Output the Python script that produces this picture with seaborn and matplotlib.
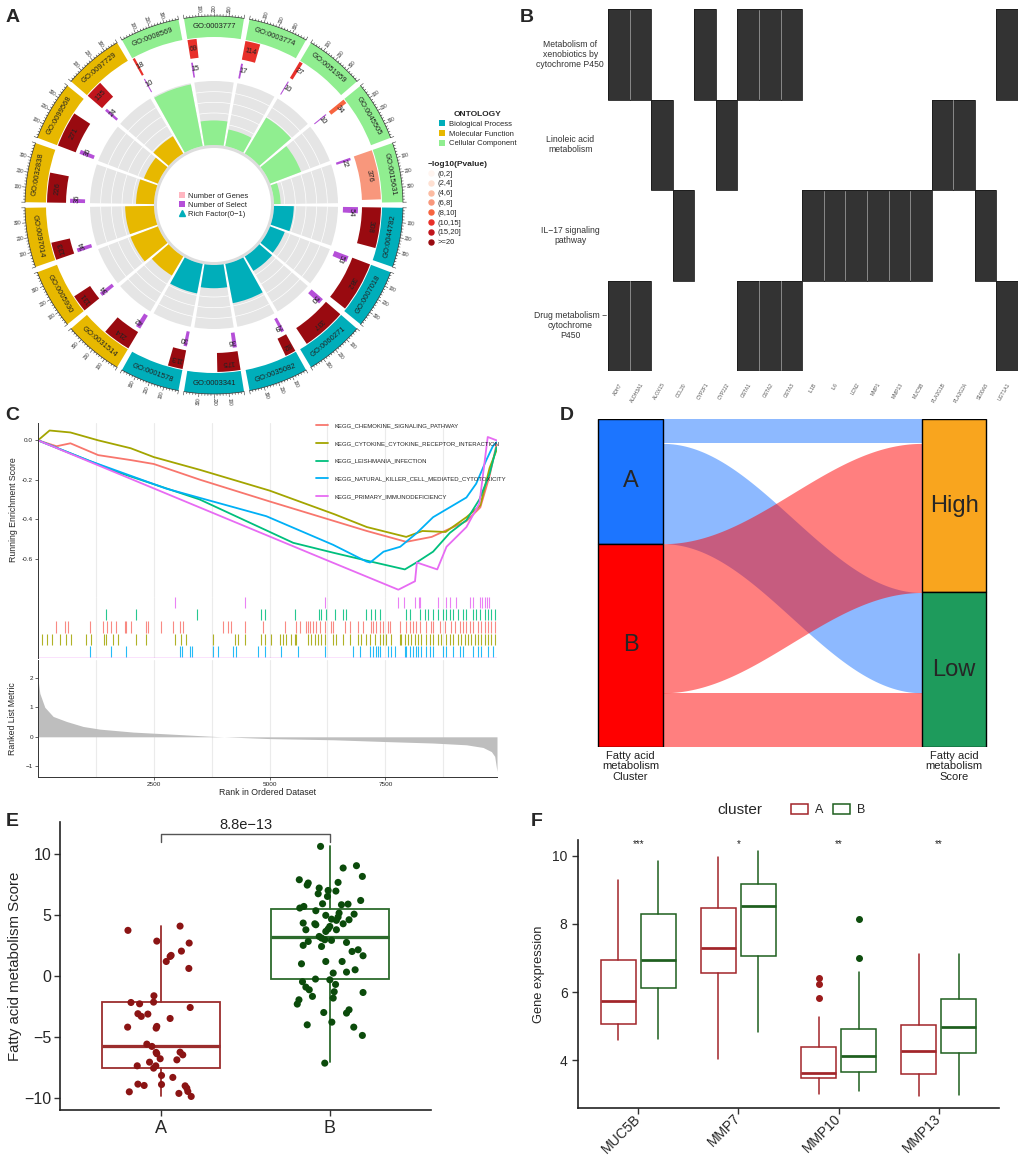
"""
Six-panel figure: GO circle plot, KEGG gene heatmap, GSEA curves,
alluvial cluster/score plot and two boxplot panels.
"""

import numpy as np
import pandas as pd
import matplotlib
matplotlib.use("Agg")
import matplotlib.pyplot as plt
import seaborn as sns
from matplotlib.patches import Patch
from matplotlib.lines import Line2D
from matplotlib.colors import ListedColormap

sns.set_theme(style="white")
plt.rcParams['font.family'] = ['Liberation Sans', 'DejaVu Sans']
plt.rcParams['axes.unicode_minus'] = True

# ---------------- data: panel A (GO circle) ----------------
go_ids = ["GO:0044782", "GO:0007018", "GO:0060271", "GO:0035082", "GO:0003341", "GO:0001578",
          "GO:0031514", "GO:0005930", "GO:0097014", "GO:0032838", "GO:0099568", "GO:0097729",
          "GO:0008569", "GO:0003777", "GO:0003774", "GO:0051959", "GO:0045505", "GO:0015631"]
go_ontology = ["BP"] * 6 + ["MF"] * 6 + ["CC"] * 6
go_genes = [308, 382, 337, 82, 175, 113, 214, 131, 133, 226, 271, 135, 18, 69, 114, 27, 34, 376]
go_select = [54, 53, 50, 29, 36, 30, 42, 34, 34, 36, 36, 24, 10, 15, 17, 10, 10, 22]
go_pclass = [">=20"] * 11 + ["(15,20]", "(10,15]", "(10,15]", "(10,15]", "(10,15]", "(8,10]", "(6,8]"]
p_levels = ["(0,2]", "(2,4]", "(4,6]", "(6,8]", "(8,10]", "(10,15]", "(15,20]", ">=20"]
p_colors = ["#FFF5F0", "#FEE0D2", "#FCBBA1", "#F8977C", "#F7643F", "#E8302A", "#C0141C", "#990A10"]
ont_names = {"BP": "Biological Process", "MF": "Molecular Function", "CC": "Cellular Component"}
ont_colors = {"BP": "#00AEBA", "MF": "#E7B800", "CC": "#90EE90"}
axis_max = 400

# ---------------- data: panel B (pathway x gene) ----------------
pathways = ["Metabolism of\nxenobiotics by\ncytochrome P450", "Linoleic acid\nmetabolism",
            "IL\u221217 signaling\npathway", "Drug metabolism \u2212\ncytochrome\nP450"]
genes = ["ADH7", "ALDH3A1", "ALOX15", "CCL20", "CYP2F1", "CYP2J2", "GSTA1", "GSTA2", "GSTA3",
         "IL1B", "IL6", "LCN2", "MMP1", "MMP13", "MUC5B", "PLA2G1B", "PLA2G2A", "S100A8", "UGT1A1"]
xeno_genes = ["ADH7", "ALDH3A1", "CYP2F1", "GSTA1", "GSTA2", "GSTA3", "UGT1A1"]
linoleic_genes = ["ALOX15", "CYP2J2", "PLA2G1B", "PLA2G2A"]
il17_genes = ["CCL20", "IL1B", "IL6", "LCN2", "MMP1", "MMP13", "MUC5B", "S100A8"]
drug_genes = ["ADH7", "ALDH3A1", "GSTA1", "GSTA2", "GSTA3", "UGT1A1"]

# ---------------- data: panel C (GSEA) ----------------
gsea_sets = ["KEGG_CHEMOKINE_SIGNALING_PATHWAY", "KEGG_CYTOKINE_CYTOKINE_RECEPTOR_INTERACTION",
             "KEGG_LEISHMANIA_INFECTION", "KEGG_NATURAL_KILLER_CELL_MEDIATED_CYTOTOXICITY",
             "KEGG_PRIMARY_IMMUNODEFICIENCY"]
gsea_colors = ["#F8766D", "#A3A500", "#00BF7D", "#00B0F6", "#E76BF3"]
n_ranked = 9910

chemo_rank = [0, 400, 700, 1300, 2000, 2500, 3500, 5000, 6400, 7100, 7950, 8500, 9250, 9550, 9750, 9900]
chemo_es = [0, -0.03, -0.015, -0.075, -0.10, -0.12, -0.20, -0.31, -0.41, -0.46, -0.515, -0.49, -0.41, -0.34, -0.18, -0.02]
cyto_rank = [0, 250, 700, 1300, 2000, 2500, 3500, 5000, 6400, 7100, 7950, 8300, 8800, 9250, 9550, 9750, 9900]
cyto_es = [0, 0.05, 0.04, 0.0, -0.04, -0.085, -0.15, -0.255, -0.375, -0.44, -0.49, -0.46, -0.465, -0.39, -0.33, -0.14, -0.05]
leish_rank = [0, 1700, 3490, 5510, 6370, 7090, 7920, 8170, 8530, 8890, 9250, 9530, 9750, 9900]
leish_es = [0, -0.16, -0.30, -0.52, -0.57, -0.61, -0.655, -0.62, -0.565, -0.47, -0.405, -0.30, -0.17, -0.035]
nk_rank = [0, 1120, 2770, 4930, 6370, 7090, 7170, 7460, 7820, 8180, 8530, 8890, 9250, 9460, 9680, 9820, 9900]
nk_es = [0, -0.105, -0.245, -0.385, -0.53, -0.615, -0.62, -0.565, -0.54, -0.47, -0.39, -0.34, -0.29, -0.22, -0.10, -0.03, -0.01]
pid_rank = [0, 6150, 7780, 8140, 8180, 8620, 8820, 9250, 9530, 9710, 9900]
pid_es = [0, -0.60, -0.758, -0.715, -0.62, -0.655, -0.54, -0.44, -0.32, 0.017, 0.0]

pid_hits = [2953, 4464, 6191, 7773, 7896, 8133, 8227, 8256, 8637, 8816, 8888, 9032, 9320, 9392,
            9536, 9586, 9644, 9694, 9737]
leish_hits = [1478, 2126, 3435, 4824, 4896, 5543, 6069, 6119, 6227, 6407, 6587, 6659, 7090, 7198,
              7270, 7378, 7953, 8025, 8241, 8349, 8421, 8529, 8637, 8745, 8816, 8888, 8960, 9068,
              9176, 9248, 9392, 9464, 9536, 9644, 9716, 9788, 9860]
chemo_hits = [399, 579, 651, 1119, 1406, 1493, 1586, 1694, 1874, 1910, 2018, 2342, 2378, 2666,
              2917, 3061, 3133, 3996, 4104, 4176, 4464, 4860, 5327, 5579, 5651, 5795, 5831, 5867,
              5939, 6011, 6083, 6191, 6335, 6371, 6623, 6731, 6911, 7018, 7198, 7234, 7306, 7378,
              7450, 7558, 7594, 7810, 7953, 8025, 8097, 8169, 8241, 8385, 8493, 8529, 8673, 8781,
              8925, 8996, 9104, 9176, 9248, 9320, 9392, 9500, 9572, 9644, 9716, 9788, 9860]
cyto_hits = [97, 187, 295, 475, 601, 723, 1047, 1155, 1421, 1478, 1622, 1730, 2111, 2342, 2953,
             3097, 3205, 3781, 4248, 4320, 4464, 4824, 4896, 5039, 5219, 5291, 5363, 5471, 5543,
             5579, 5831, 5903, 5975, 6047, 6119, 6191, 6371, 6443, 6587, 6731, 6911, 6983, 7090,
             7162, 7270, 7378, 7450, 7522, 7630, 7810, 7846, 7918, 7990, 8061, 8133, 8205, 8277,
             8385, 8457, 8529, 8637, 8709, 8816, 8888, 8960, 9068, 9140, 9212, 9284, 9356, 9428,
             9500, 9572, 9644, 9716, 9788, 9860]
nk_hits = [1133, 1586, 1910, 3061, 3119, 3277, 3334, 3781, 3889, 4212, 4269, 4751, 4896, 5255,
           5615, 6191, 6803, 6947, 7162, 7234, 7306, 7342, 7378, 7558, 7630, 7702, 7918, 7953,
           8025, 8097, 8169, 8205, 8277, 8385, 8457, 8529, 8745, 8816, 8960, 9104, 9176, 9392,
           9500, 9572, 9716, 9824]

metric_rank = [0, 40, 147, 327, 615, 975, 1335, 2054, 2773, 3853, 4990, 6371, 7500, 8529, 9248,
               9608, 9788, 9860, 9910]
metric_value = [1.95, 1.47, 1.0, 0.69, 0.52, 0.35, 0.26, 0.16, 0.10, 0.01, -0.06, -0.10, -0.16,
                -0.21, -0.27, -0.36, -0.50, -0.66, -1.17]

# ---------------- data: panel D (alluvial) ----------------
flow_cluster = ["A", "A", "B", "B"]
flow_score = ["High", "Low", "High", "Low"]
flow_count = [9, 37, 55, 20]
stratum_colors = {"A": "#1C75FF", "B": "#FF0000", "High": "#F9A51E", "Low": "#1E9B5C"}

# ---------------- data: panel E (score by cluster) ----------------
score_a_x = [0.803, 0.974, 1.112, 1.166, 1.120, 1.059, 1.053, 1.030, 1.164, 0.957, 0.821, 0.872,
             0.955, 1.172, 0.862, 0.882, 0.921, 1.053, 0.801, 0.974, 0.970, 0.915, 0.945, 0.970,
             0.974, 1.112, 1.128, 0.994, 1.093, 0.931, 0.858, 0.968, 0.955, 1.002, 1.069, 0.862,
             0.899, 1.002, 1.142, 1.152, 1.158, 0.811, 1.105, 1.178]
score_a = [3.72, 2.84, 4.07, 2.68, 2.02, 1.67, 1.58, 1.17, 0.60, -1.64, -2.19, -2.30, -2.16, -2.60,
           -3.11, -3.33, -3.14, -3.50, -4.21, -4.15, -4.29, -5.60, -5.79, -6.28, -6.39, -6.26,
           -6.48, -6.80, -6.89, -7.08, -7.38, -7.38, -7.57, -8.17, -8.33, -8.88, -8.99, -8.91,
           -9.02, -9.21, -9.48, -9.51, -9.64, -9.89]
score_b_x = [1.945, 2.158, 2.079, 2.193, 1.819, 1.872, 1.866, 2.049, 1.937, 1.990, 2.036, 1.931,
             1.986, 2.183, 1.957, 2.069, 2.108, 1.846, 1.822, 1.917, 2.055, 1.976, 2.144, 2.049,
             2.010, 2.114, 2.039, 2.079, 1.842, 1.911, 1.917, 2.000, 1.990, 2.039, 1.858, 1.976,
             1.937, 1.951, 1.970, 2.010, 2.099, 1.872, 1.842, 1.951, 2.168, 2.132, 2.197, 1.976,
             2.073, 1.832, 2.150, 2.020, 2.099, 2.000, 1.838, 1.915, 2.034, 1.858, 1.878, 2.026,
             2.197, 1.897, 2.020, 1.817, 1.807, 2.114, 2.099, 1.964, 2.012, 1.866, 2.142, 2.193,
             1.970]
score_b = [10.60, 9.02, 8.83, 8.14, 7.87, 7.60, 7.43, 7.65, 7.19, 6.99, 6.94, 6.72, 6.50, 6.17,
           5.90, 5.82, 5.87, 5.68, 5.55, 5.33, 5.14, 4.95, 5.05, 4.81, 4.64, 4.59, 4.54, 4.26,
           4.32, 4.26, 4.18, 4.04, 3.83, 3.77, 3.77, 3.63, 3.22, 3.09, 2.95, 2.90, 2.73, 2.81,
           2.49, 2.40, 2.13, 1.99, 1.64, 1.17, 1.17, 0.98, 0.49, 0.22, 0.30, -0.33, -0.49, -0.27,
           -0.71, -0.93, -1.15, -1.31, -1.37, -1.69, -1.83, -1.97, -2.32, -2.79, -3.06, -3.01,
           -3.80, -4.02, -4.21, -4.89, -7.16]
# box summary: whisker low, q1, median, q3, whisker high
score_box_a = [-9.85, -7.55, -5.75, -2.15, 4.05]
score_box_b = [-7.10, -0.25, 3.20, 5.50, 10.60]
score_p_label = "8.8e\u221213"

# ---------------- data: panel F (gene expression) ----------------
f_genes = ["MUC5B", "MMP7", "MMP10", "MMP13"]
f_stars = ["***", "*", "**", "**"]
f_box_a = [[4.58, 5.07, 5.73, 6.93, 9.28], [4.04, 6.56, 7.30, 8.47, 9.97],
           [3.01, 3.47, 3.64, 4.40, 5.26], [2.96, 3.59, 4.28, 5.03, 7.11]]
f_box_b = [[4.63, 6.13, 6.95, 8.28, 9.84], [4.82, 7.05, 8.51, 9.16, 10.14],
           [3.09, 3.67, 4.12, 4.93, 6.58], [2.98, 4.21, 4.97, 5.79, 7.13]]
f_out_a = [[], [], [6.42, 6.25, 5.82], []]
f_out_b = [[], [], [8.15, 6.99], []]
col_a = "#A2252A"
col_b = "#1E5F1E"

W, H = 1021, 1158
fig = plt.figure(figsize=(W / 100, H / 100), dpi=100)


def px_axes(x0, y0, x1, y1, **kw):
    """Axes placed by pixel box (left, top, right, bottom)."""
    return fig.add_axes([x0 / W, 1 - y1 / H, (x1 - x0) / W, (y1 - y0) / H], **kw)


def norm_deg(r):
    return (r + 180) % 360 - 180


# ================= Panel A =================
axA = px_axes(14, 5, 414, 405, projection='polar')
axA.set_theta_zero_location('E')
axA.set_theta_direction(-1)
axA.set_ylim(0, 200)
axA.set_axis_off()

n_sec = len(go_ids)
sec_w = 2 * np.pi / n_sec
gap = np.deg2rad(1.7)
usable = sec_w - gap
starts = np.arange(n_sec) * sec_w + gap / 2


def to_theta(k, x):
    return starts[k] + x / axis_max * usable


p_color_map = dict(zip(p_levels, p_colors))
sec_colors = [ont_colors[o] for o in go_ontology]
rich = np.array(go_select) / np.array(go_genes)
rich_max = rich.max() * 1.02

# outer ontology band
axA.bar(starts, 21, width=usable, bottom=168, align='edge', color=sec_colors, lw=0)
# rich factor background + grid
axA.bar(starts, 64, width=usable, bottom=60, align='edge', color='#E5E5E5', lw=0)
for k in range(n_sec):
    th = np.linspace(starts[k], starts[k] + usable, 40)
    for lev in np.linspace(60, 124, 7)[1:-1]:
        axA.plot(th, np.full_like(th, lev), color='white', lw=0.5, zorder=2)
axA.bar(starts, 64 * rich / rich_max, width=usable, bottom=60, align='edge',
        color=sec_colors, lw=0, zorder=3)
axA.bar(0, 3, width=2 * np.pi, bottom=57, align='edge', color='#DDDDDD', lw=0)

# gene number bars and select bars
for k in range(n_sec):
    g, s = go_genes[k], go_select[k]
    axA.bar(starts[k], 19, width=g / axis_max * usable, bottom=148, align='edge',
            color=p_color_map[go_pclass[k]], lw=0)
    axA.bar(starts[k], 15, width=s / axis_max * usable, bottom=129, align='edge',
            color='#B54FD8', lw=0)
    gx = g / 2 if g >= 60 else g / 2 + 22
    th = to_theta(k, gx)
    axA.text(th, 157.5, str(g), rotation=-np.rad2deg(th) - 90, ha='center', va='center',
             rotation_mode='anchor', fontsize=5.5, color='#222222')
    th = to_theta(k, s / 2 + 22)
    axA.text(th, 137, str(s), rotation=-np.rad2deg(th) - 90, ha='center', va='center',
             rotation_mode='anchor', fontsize=5.5, color='#222222')

    # GO label inside band
    thc = starts[k] + usable / 2
    rot = norm_deg(-np.rad2deg(thc) - 90)
    if rot < -90 or rot > 90:
        rot = norm_deg(rot + 180)
    axA.text(thc, 178.5, go_ids[k], rotation=rot, ha='center', va='center',
             rotation_mode='anchor', fontsize=5.5, color='#222222')

    # axis line, ticks and labels
    th = np.linspace(starts[k], starts[k] + usable, 40)
    axA.plot(th, np.full_like(th, 189), color='#333333', lw=0.5)
    for xv in range(0, axis_max + 1, 20):
        tt = to_theta(k, xv)
        ln = 3.5 if xv % 100 == 0 else 1.8
        axA.plot([tt, tt], [189, 189 + ln], color='#333333', lw=0.4)
    for xv in (100, 200, 300):
        tt = to_theta(k, xv)
        rot = norm_deg(-np.rad2deg(tt))
        if rot < -90 or rot > 90:
            rot = norm_deg(rot + 180)
        axA.text(tt, 197, str(xv), rotation=rot, ha='center', va='center',
                 rotation_mode='anchor', fontsize=3.4, color='#333333')

center_handles = [Patch(fc='#FFB6C1', ec='none'), Patch(fc='#B54FD8', ec='none'),
                  Line2D([], [], marker='^', color='#00AEBA', ls='', ms=4)]
axA.legend(center_handles, ['Number of Genes', 'Number of Select', 'Rich Factor(0\u22121)'],
           loc='center', bbox_to_anchor=(0.5, 0.5), frameon=False, fontsize=5.5,
           handlelength=0.8, handleheight=0.8, handletextpad=0.4, labelspacing=0.15)

ont_handles = [Patch(fc=ont_colors[o], ec='none') for o in ["BP", "MF", "CC"]]
fig.legend(ont_handles, [ont_names[o] for o in ["BP", "MF", "CC"]], title='ONTOLOGY',
           loc='upper left', bbox_to_anchor=(432 / W, 1 - 104 / H), frameon=False,
           fontsize=5.5, title_fontproperties={'weight': 'bold', 'size': 6},
           handlelength=0.8, handleheight=0.8, handletextpad=0.5, labelspacing=0.3)
p_handles = [Line2D([], [], marker='o', color=c, ls='', ms=3.6) for c in p_colors]
fig.legend(p_handles, p_levels, title='\u2212log10(Pvalue)', loc='upper left',
           bbox_to_anchor=(421 / W, 1 - 154 / H), frameon=False, fontsize=5.5,
           title_fontproperties={'weight': 'bold', 'size': 6}, alignment='left',
           handlelength=0.8, handletextpad=0.5, labelspacing=0.32)

# ================= Panel B =================
member = pd.DataFrame(0, index=range(len(pathways)), columns=genes)
for i, gl in enumerate([xeno_genes, linoleic_genes, il17_genes, drug_genes]):
    member.loc[i, gl] = 1
axB = px_axes(608, 9, 1018, 371)
sns.heatmap(member, mask=member.values == 0, cmap=ListedColormap(['#333333']), vmin=0, vmax=1,
            cbar=False, linewidths=0, ax=axB)
# light separators between neighbouring filled cells, dark outline around them
mat = member.values
for i in range(mat.shape[0]):
    for j in range(mat.shape[1]):
        if mat[i, j]:
            axB.add_patch(plt.Rectangle((j, i), 1, 1, fill=False, ec='#1A1A1A', lw=0.6))
for i in range(mat.shape[0]):
    for j in range(mat.shape[1] - 1):
        if mat[i, j] and mat[i, j + 1]:
            axB.plot([j + 1, j + 1], [i + 0.01, i + 0.99], color='#8A8A8A', lw=0.7)
axB.set_xticks(np.arange(len(genes)) + 0.5)
axB.set_xticklabels(genes, rotation=60, ha='right', rotation_mode='anchor',
                    fontsize=3.6, color='#555555')
axB.tick_params(axis='x', length=0, pad=8)
axB.set_yticks([])
axB.set_ylabel('')
for i, p in enumerate(pathways):
    axB.text(-0.092, i + 0.5, p, transform=axB.get_yaxis_transform(), ha='center',
             va='center', fontsize=6.2, color='#333333', linespacing=1.15)

# ================= Panel C =================
axC1 = px_axes(38, 423, 497, 597)
axC2 = px_axes(38, 597, 497, 658)
axC3 = px_axes(38, 660, 497, 777)
grid_ranks = np.arange(1250, n_ranked, 1250)
for a in (axC1, axC2, axC3):
    a.set_xlim(0, n_ranked)
    for gx in grid_ranks:
        a.axvline(gx, color='#EBEBEB', lw=0.8, zorder=0)
    for sp in ('top', 'right'):
        a.spines[sp].set_visible(False)
    for sp in ('left', 'bottom'):
        a.spines[sp].set_color('#333333')
        a.spines[sp].set_linewidth(0.7)

curves = [(chemo_rank, chemo_es), (cyto_rank, cyto_es), (leish_rank, leish_es),
          (nk_rank, nk_es), (pid_rank, pid_es)]
for (r, e), c, name in zip(curves, gsea_colors, gsea_sets):
    sns.lineplot(x=r, y=e, color=c, lw=1.3, ax=axC1, label=name, sort=False)
axC1.set_ylim(-0.795, 0.088)
axC1.set_yticks([0, -0.2, -0.4, -0.6])
axC1.set_yticklabels(['0.0', '-0.2', '-0.4', '-0.6'])
axC1.spines['bottom'].set_visible(False)
axC1.set_xticks([])
axC1.tick_params(axis='y', labelsize=4.6, length=2, width=0.5, pad=1.5, left=True)
axC1.set_ylabel('Running Enrichment Score', fontsize=6.3, labelpad=3)
axC1.legend(loc='upper left', bbox_to_anchor=(0.593, 1.03), frameon=False, fontsize=4.3,
            handlelength=2.0, handletextpad=1.2, labelspacing=2.1)

hit_rows = [pid_hits, leish_hits, chemo_hits, cyto_hits, nk_hits]
row_colors = [gsea_colors[4], gsea_colors[2], gsea_colors[0], gsea_colors[1], gsea_colors[3]]
for i, (hits, c) in enumerate(zip(hit_rows, row_colors)):
    y0 = 4 - i
    axC2.vlines(hits, y0 + 0.08, y0 + 1, color=c, lw=0.8, alpha=0.85)
axC2.axhline(0.03, color=gsea_colors[4], lw=1.0)
axC2.set_ylim(0, 5)
axC2.set_xticks([])
axC2.set_yticks([])
axC2.spines['bottom'].set_visible(False)

axC3.fill_between(metric_rank, metric_value, 0, color='#BEBEBE', lw=0)
axC3.set_ylim(-1.36, 2.6)
axC3.set_yticks([-1, 0, 1, 2])
axC3.set_xticks([2500, 5000, 7500])
axC3.tick_params(labelsize=4.6, length=2, width=0.5, pad=1.5, left=True, bottom=True)
axC3.set_xlabel('Rank in Ordered Dataset', fontsize=6.3, labelpad=1)
axC3.set_ylabel('Ranked List Metric', fontsize=6.3, labelpad=6)

# ================= Panel D =================
axD = px_axes(560, 419, 1010, 747)
axD.set_xlim(0.782, 2.173)
total = sum(flow_count)
axD.set_ylim(0, total)
axD.set_axis_off()
bar_w = 0.2
clusters = ["A", "B"]
scores = ["High", "Low"]
flows = pd.DataFrame({'cluster': flow_cluster, 'score': flow_score, 'n': flow_count})

# stack positions on each axis (top-down)
left_pos, right_pos = {}, {}
top = total
for cl in clusters:
    for sc in scores:
        n = flows[(flows.cluster == cl) & (flows.score == sc)].n.sum()
        left_pos[(cl, sc)] = (top, top - n)
        top -= n
top = total
for sc in scores:
    for cl in clusters:
        n = flows[(flows.cluster == cl) & (flows.score == sc)].n.sum()
        right_pos[(cl, sc)] = (top, top - n)
        top -= n

t = np.linspace(0, 1, 80)
ease = (1 - np.cos(np.pi * t)) / 2
x0, x1 = 1 + bar_w / 2, 2 - bar_w / 2
xs = x0 + (x1 - x0) * t
for cl in clusters:
    for sc in scores:
        lt, lb = left_pos[(cl, sc)]
        rt, rb = right_pos[(cl, sc)]
        axD.fill_between(xs, lb + (rb - lb) * ease, lt + (rt - lt) * ease,
                         color=stratum_colors[cl], alpha=0.5, lw=0)

cl_tot = flows.groupby('cluster').n.sum()
sc_tot = flows.groupby('score').n.sum()
top = total
for cl in clusters:
    axD.bar(1, -cl_tot[cl], bottom=top, width=bar_w, color=stratum_colors[cl],
            edgecolor='black', lw=1.0)
    axD.text(1, top - cl_tot[cl] / 2, cl, ha='center', va='center', fontsize=17)
    top -= cl_tot[cl]
top = total
for sc in scores:
    axD.bar(2, -sc_tot[sc], bottom=top, width=bar_w, color=stratum_colors[sc],
            edgecolor='black', lw=1.0)
    axD.text(2, top - sc_tot[sc] / 2, sc, ha='center', va='center', fontsize=17)
    top -= sc_tot[sc]
axD.text(1, -1.5, 'Fatty acid\nmetabolism\nCluster', ha='center', va='top', fontsize=8,
         color='#222222', linespacing=1.05, clip_on=False)
axD.text(2, -1.5, 'Fatty acid\nmetabolism\nScore', ha='center', va='top', fontsize=8,
         color='#222222', linespacing=1.05, clip_on=False)


def box_stats(vals, fliers=()):
    lo, q1, med, q3, hi = vals
    return dict(whislo=lo, q1=q1, med=med, q3=q3, whishi=hi, fliers=list(fliers))


def color_bxp(art, colors, lw):
    for i, c in enumerate(colors):
        art['boxes'][i].set(edgecolor=c, facecolor='white', lw=lw)
        art['medians'][i].set(color=c, lw=lw * 1.8)
        for j in (2 * i, 2 * i + 1):
            art['whiskers'][j].set(color=c, lw=lw)
            art['caps'][j].set(color=c, lw=0)


# ================= Panel E =================
axE = px_axes(60, 822, 431, 1110)
artE = axE.bxp([box_stats(score_box_a), box_stats(score_box_b)], positions=[1, 2], widths=0.7,
               showfliers=False, patch_artist=True, zorder=1)
color_bxp(artE, ['#9B2D2D', '#2C6B2C'], 1.3)
pts = pd.DataFrame({'x': score_a_x + score_b_x, 'score': score_a + score_b,
                    'cluster': ['A'] * len(score_a) + ['B'] * len(score_b)})
sns.scatterplot(data=pts, x='x', y='score', hue='cluster',
                palette={'A': '#8B1414', 'B': '#0B4B0B'}, s=26, edgecolor='none',
                legend=False, ax=axE, zorder=3)
axE.plot([1, 1, 2, 2], [11.0, 11.6, 11.6, 11.0], color='#555555', lw=1.0)
axE.text(1.5, 11.75, score_p_label, ha='center', va='bottom', fontsize=10.5, color='#222222')
axE.set_xlim(0.4, 2.6)
axE.set_ylim(-11.0, 12.6)
axE.set_xticks([1, 2])
axE.set_xticklabels(['A', 'B'], fontsize=13)
axE.set_yticks([-10, -5, 0, 5, 10])
axE.tick_params(axis='y', labelsize=11.5, pad=2)
axE.tick_params(length=4, width=1.0, color='#333333', bottom=True, left=True)
axE.set_xlabel('')
axE.set_ylabel('Fatty acid metabolism Score', fontsize=10.8, labelpad=2)
for sp in ('top', 'right'):
    axE.spines[sp].set_visible(False)
for sp in ('left', 'bottom'):
    axE.spines[sp].set_color('#222222')
    axE.spines[sp].set_linewidth(1.2)

# ================= Panel F =================
axF = px_axes(578, 840, 999, 1108)
stats_f, pos_f, cols_f = [], [], []
for i in range(len(f_genes)):
    stats_f.append(box_stats(f_box_a[i], f_out_a[i]))
    stats_f.append(box_stats(f_box_b[i], f_out_b[i]))
    pos_f += [i + 1 - 0.2, i + 1 + 0.2]
    cols_f += [col_a, col_b]
artF = axF.bxp(stats_f, positions=pos_f, widths=0.35, showfliers=True, patch_artist=True)
color_bxp(artF, cols_f, 1.1)
for i, fl in enumerate(artF['fliers']):
    fc = '#9B1B1B' if i % 2 == 0 else '#0E4D0E'
    fl.set(marker='o', markerfacecolor=fc, markeredgecolor=fc, markersize=4)
for i, st in enumerate(f_stars):
    axF.text(i + 1, 10.2, st, ha='center', va='bottom', fontsize=7, color='#222222')
axF.set_xlim(0.4, 4.6)
axF.set_ylim(2.6, 10.46)
axF.set_xticks(range(1, len(f_genes) + 1))
axF.set_xticklabels(f_genes, rotation=45, ha='right', va='center', rotation_mode='anchor',
                    fontsize=10)
axF.set_yticks([4, 6, 8, 10])
axF.tick_params(axis='y', labelsize=10)
axF.tick_params(axis='x', pad=2)
axF.tick_params(length=4, width=1.0, color='#333333', bottom=True, left=True)
axF.set_ylabel('Gene expression', fontsize=9.3, labelpad=5)
for sp in ('top', 'right'):
    axF.spines[sp].set_visible(False)
for sp in ('left', 'bottom'):
    axF.spines[sp].set_color('#222222')
    axF.spines[sp].set_linewidth(1.2)
f_handles = [Patch(fc='white', ec=col_a, lw=1.1), Patch(fc='white', ec=col_b, lw=1.1)]
fig.text(740 / W, 1 - 810 / H, 'cluster', ha='center', va='center', fontsize=11)
fig.legend(f_handles, ['A', 'B'], loc='center left', bbox_to_anchor=(780 / W, 1 - 810 / H),
           ncol=2, frameon=False, fontsize=9, handlelength=1.3, handleheight=0.9,
           handletextpad=0.6, columnspacing=0.8)

# ================= Panel letters =================
for lab, x, y in [('A', 13, 18), ('B', 527, 17), ('C', 12, 415), ('D', 567, 415),
                  ('E', 12, 822), ('F', 537, 822)]:
    fig.text(x / W, 1 - y / H, lab, fontsize=14, fontweight='bold', ha='center', va='center')

fig.savefig('out.png', dpi=100)
